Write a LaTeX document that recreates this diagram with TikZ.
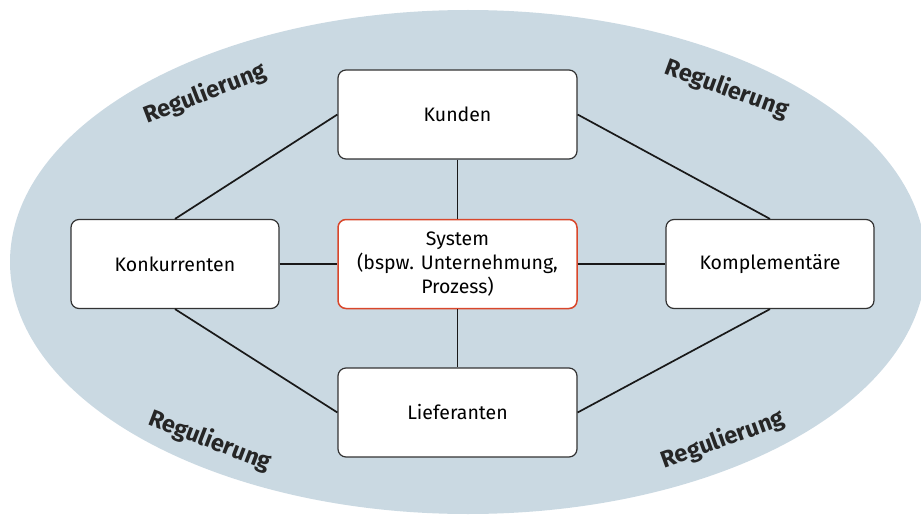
\documentclass[tikz,border=0pt]{standalone}
\usepackage{fontspec}
\setmainfont{Fira Sans}
\begin{document}
\begin{tikzpicture}[x=1pt,y=-1pt,
  box/.style={draw=black!80,line width=1.2pt,fill=white,rounded corners=8pt,minimum width=239pt,minimum height=89pt,font=\fontsize{19.5}{24}\selectfont,align=center,inner sep=0pt},
  sbox/.style={box,minimum width=208pt},
  sysbox/.style={box,draw=sysred,line width=1.5pt},
  conn/.style={line width=1.7pt,draw=black!90},
  reg/.style={font=\bfseries\fontsize{23.5}{26}\selectfont,text=black!85}]
\definecolor{ellfill}{HTML}{CAD9E2}
\definecolor{sysred}{HTML}{D9472B}
\useasboundingbox (0,0) rectangle (921,516);
\fill[ellfill] (468,262) ellipse [x radius=458pt, y radius=252pt];
\node[box] (kunden) at (457.5,114.5) {Kunden};
\node[sbox] (konk) at (175,264) {Konkurrenten};
\node[sysbox] (sys) at (457.5,264) {System\\(bspw. Unternehmung,\\Prozess)};
\node[sbox] (kompl) at (770,264) {Komplementäre};
\node[box] (lief) at (457.5,412.5) {Lieferanten};
\draw[conn] (kunden.west) -- (konk.north);
\draw[conn] (kunden.east) -- (kompl.north);
\draw[conn] (konk.south) -- (lief.west);
\draw[conn] (lief.east) -- (kompl.south);
\draw[conn] (kunden.south) -- (sys.north);
\draw[conn] (sys.south) -- (lief.north);
\draw[conn] (konk.east) -- (sys.west);
\draw[conn] (sys.east) -- (kompl.west);
\node[reg,rotate=21] (r1) at (205,94) {Regulierung};
\node[reg,rotate=-20] (r2) at (727,89) {Regulierung};
\node[reg,rotate=-21] (r3) at (210,441) {Regulierung};
\node[reg,rotate=20] (r4) at (723,440) {Regulierung};
\end{tikzpicture}
\end{document}
